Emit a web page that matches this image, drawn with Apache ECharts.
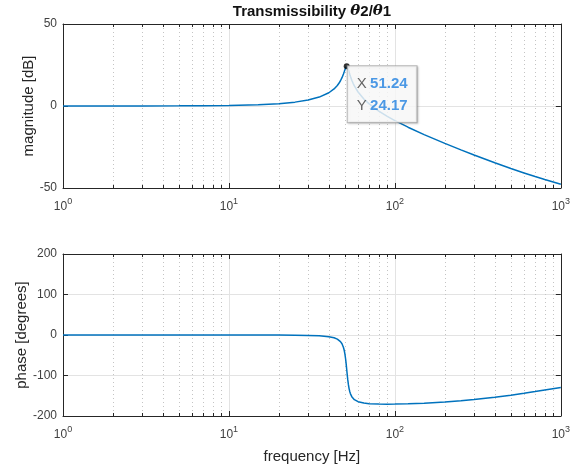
<!DOCTYPE html>
<html>
<head>
<meta charset="utf-8">
<script src="https://cdn.jsdelivr.net/npm/echarts@6/dist/echarts.min.js"></script>
<style>html,body{margin:0;padding:0;background:#fff;}#c{width:573px;height:468px;}</style>
</head>
<body>
<div id="c"></div>
<script>
// ---- data ----
const freq = [1,2,3,5,7,10,15,20,25,30,35,40,43,45,46,47,48,49,49.5,50,50.5,50.75,51,51.24,51.5,51.75,52,52.5,53,53.5,54,55,56,57,60,65,70,80,90,100,120,150,200,250,300,400,500,600,700,800,1000];
const magDb = [0.00,0.01,0.03,0.08,0.16,0.34,0.78,1.43,2.36,3.63,5.43,8.08,10.42,12.53,13.85,15.40,17.28,19.55,20.83,22.15,23.33,23.78,24.07,24.17,24.06,23.74,23.27,22.02,20.62,19.25,17.97,15.72,13.84,12.24,8.53,4.30,1.27,-3.10,-6.32,-8.89,-12.93,-17.42,-22.80,-26.77,-29.89,-34.62,-38.12,-40.83,-43.01,-44.82,-47.66];
const phaseDeg = [0,0,0,0,0,-0.03,-0.10,-0.25,-0.54,-1.08,-2.1,-4.27,-6.95,-10.18,-12.69,-16.27,-21.71,-30.75,-37.69,-47.12,-59.91,-67.62,-76.11,-84.65,-93.93,-102.49,-110.34,-123.33,-132.97,-140.01,-145.24,-152.27,-156.70,-159.70,-164.71,-168.12,-169.56,-170.62,-170.80,-170.64,-169.89,-168.35,-165.44,-162.42,-159.44,-153.74,-148.48,-143.75,-139.51,-135.73,-129.42];
const peakPoint = [51.24, 24.17];
const minorX = [2,3,4,5,6,7,8,9,20,30,40,50,60,70,80,90,200,300,400,500,600,700,800,900];
const magTicks = {min:-50, max:50, interval:50};
const phaseTicks = {min:-200, max:200, interval:100};
const freqRange = {min:1, max:1000};

const AX = '#262626';
const LBL = '#404040';
const GRID = '#e3e3e3';
const FONT = '"Liberation Sans", Arial, Helvetica, sans-serif';

const chart = echarts.init(document.getElementById('c'), null, {renderer:'canvas'});

function xLabelFmt(v){
  const e = Math.round(Math.log10(v));
  return '{b|10}{s|' + e + '}';
}
const xRich = {
  b:{fontSize:12, fontFamily:FONT, color:LBL, lineHeight:16, verticalAlign:'bottom'},
  s:{fontSize:9, fontFamily:FONT, color:LBL, lineHeight:9, verticalAlign:'top'}
};

function xAxisPair(gridIndex, withName){
  const bottom = {
    type:'log', logBase:10, gridIndex, min:freqRange.min, max:freqRange.max, position:'bottom',
    axisLine:{show:true, onZero:false, lineStyle:{color:AX, width:1}},
    axisTick:{show:true, inside:true, length:5, lineStyle:{color:AX}},
    axisLabel:{show:true, formatter:xLabelFmt, rich:xRich, margin:9},
    splitLine:{show:true, lineStyle:{color:GRID, width:1}},
    minorTick:{show:false}, minorSplitLine:{show:false}
  };
  if (withName){
    bottom.name = 'frequency [Hz]';
    bottom.nameLocation = 'middle';
    bottom.nameGap = 33;
    bottom.nameMoveOverlap = false;
    bottom.nameTextStyle = {fontSize:15, fontFamily:FONT, color:AX};
  }
  const top = {
    type:'log', logBase:10, gridIndex, min:freqRange.min, max:freqRange.max, position:'top',
    axisLine:{show:true, onZero:false, lineStyle:{color:AX, width:1}},
    axisTick:{show:true, inside:true, length:5, lineStyle:{color:AX}},
    axisLabel:{show:false}, splitLine:{show:false}
  };
  return [bottom, top];
}
function yAxisPair(gridIndex, ticks, name, gap){
  const left = {
    type:'value', gridIndex, min:ticks.min, max:ticks.max, interval:ticks.interval, position:'left',
    name, nameLocation:'middle', nameGap:gap, nameRotate:90, nameMoveOverlap:false,
    nameTextStyle:{fontSize:15, fontFamily:FONT, color:AX},
    axisLine:{show:true, onZero:false, lineStyle:{color:AX, width:1}},
    axisTick:{show:true, inside:true, length:5, lineStyle:{color:AX}},
    axisLabel:{show:true, fontSize:12, fontFamily:FONT, color:LBL, margin:6},
    splitLine:{show:true, lineStyle:{color:GRID, width:1}}
  };
  const right = {
    type:'value', gridIndex, min:ticks.min, max:ticks.max, interval:ticks.interval, position:'right',
    axisLine:{show:true, onZero:false, lineStyle:{color:AX, width:1}},
    axisTick:{show:true, inside:true, length:5, lineStyle:{color:AX}},
    axisLabel:{show:false}, splitLine:{show:false}
  };
  return [left, right];
}

function minorRender(params, api){
  const cs = params.coordSys;
  let x = api.coord([api.value(0), api.value(1)])[0];
  x = Math.round(x) + 0.5;
  const top = cs.y, bot = cs.y + cs.height;
  return {type:'group', children:[
    {type:'line', shape:{x1:x, y1:top, x2:x, y2:bot}, style:{stroke:'#c4c4c4', lineWidth:1, lineDash:[1,3]}},
    {type:'line', shape:{x1:x, y1:bot, x2:x, y2:bot-3}, style:{stroke:AX, lineWidth:1}},
    {type:'line', shape:{x1:x, y1:top, x2:x, y2:top+3}, style:{stroke:AX, lineWidth:1}}
  ]};
}

const xs = xAxisPair(0, false).concat(xAxisPair(1, true));
const ys = yAxisPair(0, magTicks, 'magnitude [dB]', 27).concat(yAxisPair(1, phaseTicks, 'phase [degrees]', 34));

const option = {
  backgroundColor:'#ffffff',
  animation:false,
  title:{
    text:'{b|Transmissibility }{i|θ}{b|2/}{i|θ}{b|1}',
    left:312, textAlign:'center', top:4, padding:0,
    textStyle:{rich:{
      b:{fontSize:15, fontWeight:'bold', fontFamily:FONT, color:'#111'},
      i:{fontSize:15, fontWeight:'bold', fontStyle:'italic', fontFamily:'"DejaVu Serif", serif', color:'#111'}
    }}
  },
  grid:[
    {left:63, width:498, top:24, height:164, containLabel:false},
    {left:63, width:498, top:254, height:162, containLabel:false}
  ],
  xAxis:xs,
  yAxis:ys,
  series:[
    {type:'custom', xAxisIndex:0, yAxisIndex:0, z:1, silent:true, clip:false,
     renderItem:minorRender, data:minorX.map(v => [v, magTicks.min])},
    {type:'custom', xAxisIndex:2, yAxisIndex:2, z:1, silent:true, clip:false,
     renderItem:minorRender, data:minorX.map(v => [v, phaseTicks.min])},
    {type:'line', xAxisIndex:0, yAxisIndex:0, z:3, showSymbol:false, symbol:'none',
     lineStyle:{color:'#0072BD', width:1.5}, data:freq.map((f,i) => [f, magDb[i]])},
    {type:'line', xAxisIndex:2, yAxisIndex:2, z:3, showSymbol:false, symbol:'none',
     lineStyle:{color:'#0072BD', width:1.5}, data:freq.map((f,i) => [f, phaseDeg[i]])},
    {type:'scatter', xAxisIndex:0, yAxisIndex:0, z:10, symbol:'circle', symbolSize:6,
     itemStyle:{color:'#000'},
     data:[peakPoint],
     label:{show:true, position:[4,3], align:'left', verticalAlign:'top',
       formatter:function(p){ return '{k|X} {v|' + p.value[0].toFixed(2) + '}\n{k|Y} {v|' + p.value[1].toFixed(2) + '}'; },
       backgroundColor:'#ffffff', borderColor:'#a8a8a8', borderWidth:1,
       padding:[6,9,6,9], shadowColor:'rgba(0,0,0,0.18)', shadowBlur:2, shadowOffsetX:1, shadowOffsetY:1,
       rich:{
         k:{fontSize:15, fontFamily:FONT, color:'#404040', lineHeight:22},
         v:{fontSize:15, fontFamily:FONT, fontWeight:'bold', color:'#1f80e0', lineHeight:22}
       }
     }}
  ]
};
chart.setOption(option);
</script>
</body>
</html>
